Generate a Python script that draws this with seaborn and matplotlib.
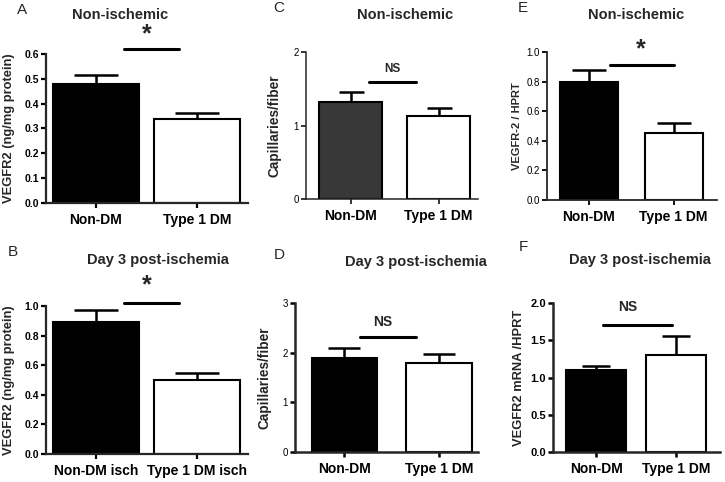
import pandas as pd
import seaborn as sns
import matplotlib.pyplot as plt

# Groups
groups = ['Non-DM', 'Type 1 DM']
groups_isch = ['Non-DM isch', 'Type 1 DM isch']

# Mean and SEM for each panel
a_mean = [0.48, 0.339]
a_sem = [0.036, 0.024]
b_mean = [0.89, 0.50]
b_sem = [0.08, 0.047]
c_mean = [1.32, 1.13]
c_sem = [0.14, 0.11]
d_mean = [1.90, 1.79]
d_sem = [0.19, 0.19]
e_mean = [0.80, 0.45]
e_sem = [0.08, 0.07]
f_mean = [1.10, 1.30]
f_sem = [0.06, 0.26]

# Tick values / labels
a_ticks = [0.0, 0.1, 0.2, 0.3, 0.4, 0.5, 0.6]
a_labels = ['0.0', '0.1', '0.2', '0.3', '0.4', '0.5', '0.6']
b_ticks = [0.0, 0.2, 0.4, 0.6, 0.8, 1.0]
b_labels = ['0.0', '0.2', '0.4', '0.6', '0.8', '1.0']
c_ticks = [0, 1, 2]
c_labels = ['0', '1', '2']
d_ticks = [0, 1, 2, 3]
d_labels = ['0', '1', '2', '3']
e_ticks = [0.0, 0.2, 0.4, 0.6, 0.8, 1.0]
e_labels = ['0.0', '0.2', '0.4', '0.6', '0.8', '1.0']
f_ticks = [0.0, 0.5, 1.0, 1.5, 2.0]
f_labels = ['0.0', '0.5', '1.0', '1.5', '2.0']

sns.set_style('ticks')
plt.rcParams['font.family'] = ['Liberation Sans', 'DejaVu Sans']

W, H = 725, 482
fig = plt.figure(figsize=(W / 100, H / 100), dpi=100)


def px_rect(left, right, top, bottom):
    return [left / W, (H - bottom) / H, (right - left) / W, (bottom - top) / H]


def panel(box, xlim, cats, means, sems, ticks, labels, ylabel, colors, width,
          cap, lw, ylab_x, ylab_size, tick_size, tick_bold, sig, sig_text, sig_size):
    left, right, top, bottom = box
    ax = fig.add_axes(px_rect(left, right, top, bottom))
    df = pd.DataFrame({'group': cats, 'value': means})
    sns.barplot(data=df, x='group', y='value', hue='group', palette=colors,
                width=width, edgecolor='black', linewidth=1.5, legend=False,
                errorbar=None, ax=ax, zorder=2)
    ax.errorbar([0, 1], means, yerr=[[0, 0], sems], fmt='none', ecolor='black',
                elinewidth=1.8, capsize=cap, capthick=1.8, zorder=1)
    ax.set_xlim(*xlim)
    ax.set_ylim(ticks[0], ticks[-1])
    ax.set_yticks(ticks)
    ax.set_yticklabels(labels, fontsize=tick_size,
                       fontweight='bold' if tick_bold else 'normal')
    ax.set_xticks([0, 1])
    ax.set_xticklabels(cats, fontsize=10, fontweight='bold')
    ax.set_xlabel('')
    ax.set_ylabel(ylabel, fontsize=ylab_size, fontweight='bold')
    ax.yaxis.set_label_coords((ylab_x - left) / (right - left), 0.5)
    sns.despine(ax=ax)
    for s in ['left', 'bottom']:
        ax.spines[s].set_linewidth(lw)
    ax.tick_params(axis='both', width=lw, length=3.5, pad=1.5, colors='black')
    ax.tick_params(axis='x', pad=4)
    ax.set_facecolor('white')
    # significance bar and label
    x0, x1, ly, tx, ty = sig
    ax.plot([x0, x1], [ly, ly], color='black', lw=2.2, clip_on=False)
    ax.text(tx, ty, sig_text, ha='center', va='center', fontsize=sig_size,
            fontweight='bold', clip_on=False)
    return ax


# A
panel((46, 248, 54, 203), (-0.49, 1.5), groups, a_mean, a_sem, a_ticks, a_labels,
      'VEGFR2 (ng/mg protein)', ['black', 'white'], 0.85, 16, 1.6, 15, 9.3, 7.5, True,
      (0.28, 0.82, 0.62, 0.5, 0.68), '*', 18)
# B
panel((46, 248, 306, 454), (-0.49, 1.5), groups_isch, b_mean, b_sem, b_ticks, b_labels,
      'VEGFR2 (ng/mg protein)', ['black', 'white'], 0.85, 16, 1.6, 15, 9.3, 7.5, True,
      (0.28, 0.82, 1.02, 0.5, 1.14), '*', 18)
# C
panel((306, 478, 52, 199), (-0.51, 1.45), groups, c_mean, c_sem, c_ticks, c_labels,
      'Capillaries/fiber', ['#383838', 'white'], 0.72, 9, 1.1, 282, 9.8, 7, False,
      (0.21, 0.74, 1.59, 0.47, 1.77), 'NS', 8.5)
# D
panel((295, 478, 303, 452), (-0.52, 1.41), groups, d_mean, d_sem, d_ticks, d_labels,
      'Capillaries/fiber', ['black', 'white'], 0.69, 11.5, 1.8, 272, 9.8, 7, False,
      (0.17, 0.76, 2.31, 0.41, 2.62), 'NS', 10)
# E
panel((547, 717, 52, 200), (-0.49, 1.51), groups, e_mean, e_sem, e_ticks, e_labels,
      'VEGFR-2 / HPRT', ['black', 'white'], 0.68, 12, 1.3, 522, 8, 7, False,
      (0.25, 1.0, 0.91, 0.61, 1.02), '*', 18)
# F
panel((553, 720, 303, 452), (-0.54, 1.55), groups, f_mean, f_sem, f_ticks, f_labels,
      'VEGFR2 mRNA /HPRT', ['black', 'white'], 0.75, 10, 1.8, 525, 9.3, 8, True,
      (0.09, 0.95, 1.70, 0.4, 1.95), 'NS', 10)

# Titles
titles = [('Non-ischemic', 120, 15), ('Day 3 post-ischemia', 158, 260),
          ('Non-ischemic', 405, 15), ('Day 3 post-ischemia', 416, 262),
          ('Non-ischemic', 636, 15), ('Day 3 post-ischemia', 640, 260)]
for t, x, y in titles:
    fig.text(x / W, 1 - y / H, t, ha='center', va='center', fontsize=10.5,
             fontweight='bold')

# Panel letters
letters = [('A', 22, 10), ('B', 13, 252), ('C', 279, 8), ('D', 279, 255),
           ('E', 523, 8), ('F', 523, 247)]
for t, x, y in letters:
    fig.text(x / W, 1 - y / H, t, ha='center', va='center', fontsize=11)

fig.savefig('out.png', dpi=100, facecolor='white')
